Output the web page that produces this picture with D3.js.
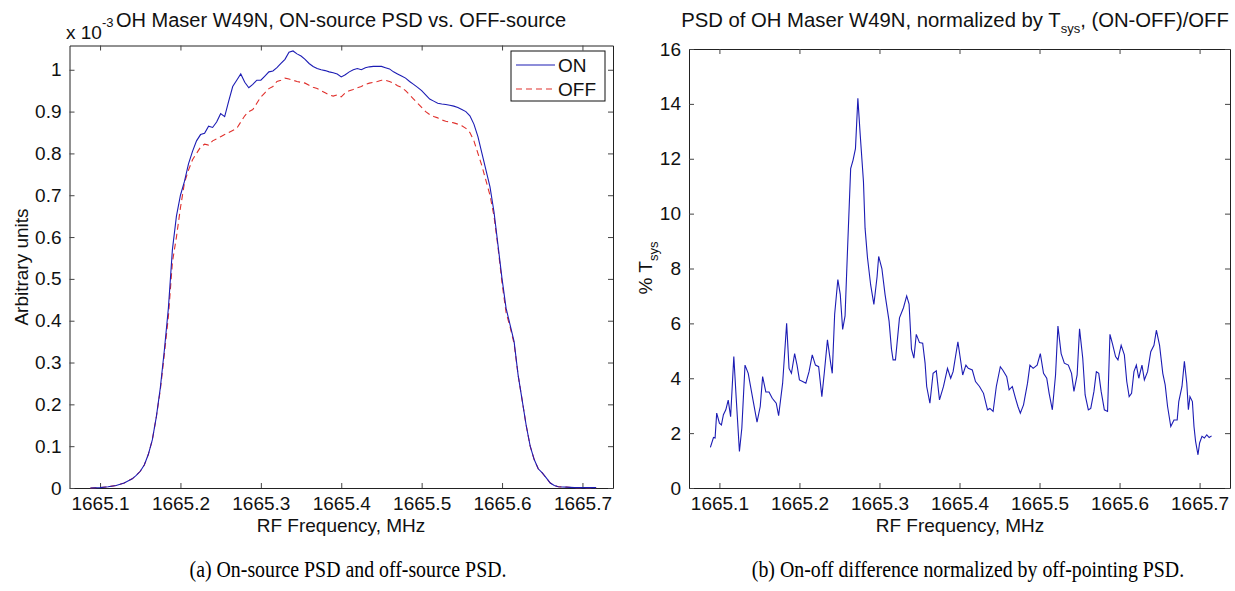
<!DOCTYPE html>
<html lang="en">
<head>
    <meta charset="UTF-8">
    <title>OH Maser W49N PSD</title>
    <style>
        body { margin: 0; background: #fff; }
        svg { display: block; }
        .tick text { font-family: "Liberation Sans", Arial, sans-serif; }
    </style>
</head>
<body>
<script src="https://d3js.org/d3.v7.min.js"></script>
<script>

    // left panel: on/off source PSD (x 1e-3, arbitrary units)
    var psdFreq = [1665.088, 1665.10, 1665.11, 1665.12, 1665.13, 1665.14, 1665.145, 1665.15, 1665.155, 1665.16,
        1665.165, 1665.17, 1665.175, 1665.18, 1665.185, 1665.19, 1665.195, 1665.20, 1665.205, 1665.21,
        1665.215, 1665.22, 1665.225, 1665.23, 1665.235, 1665.24, 1665.245, 1665.25, 1665.255, 1665.26,
        1665.265, 1665.27, 1665.275, 1665.28, 1665.285, 1665.29, 1665.295, 1665.30, 1665.305, 1665.31,
        1665.315, 1665.32, 1665.325, 1665.33, 1665.335, 1665.34, 1665.345, 1665.35, 1665.355, 1665.36,
        1665.365, 1665.37, 1665.375, 1665.38, 1665.385, 1665.39, 1665.395, 1665.40, 1665.405, 1665.41,
        1665.415, 1665.42, 1665.425, 1665.43, 1665.435, 1665.44, 1665.445, 1665.45, 1665.455, 1665.46,
        1665.465, 1665.47, 1665.475, 1665.48, 1665.485, 1665.49, 1665.495, 1665.50, 1665.505, 1665.51,
        1665.515, 1665.52, 1665.525, 1665.53, 1665.535, 1665.54, 1665.545, 1665.55, 1665.555, 1665.56,
        1665.565, 1665.57, 1665.575, 1665.58, 1665.585, 1665.59, 1665.595, 1665.60, 1665.605, 1665.61,
        1665.615, 1665.62, 1665.625, 1665.63, 1665.635, 1665.64, 1665.645, 1665.65, 1665.655, 1665.66,
        1665.665, 1665.67, 1665.68, 1665.69, 1665.70, 1665.717];

    var psdOn = [0.000, 0.001, 0.003, 0.006, 0.012, 0.022, 0.030, 0.040, 0.055, 0.080,
        0.115, 0.170, 0.240, 0.330, 0.430, 0.570, 0.650, 0.700, 0.733, 0.775,
        0.805, 0.830, 0.845, 0.848, 0.865, 0.862, 0.875, 0.895, 0.888, 0.925,
        0.960, 0.975, 0.990, 0.970, 0.957, 0.965, 0.975, 0.975, 0.985, 0.995,
        0.997, 1.005, 1.015, 1.025, 1.042, 1.045, 1.038, 1.033, 1.025, 1.015,
        1.008, 1.003, 1.000, 0.998, 0.995, 0.993, 0.990, 0.983, 0.988, 0.995,
        1.000, 1.003, 1.000, 1.005, 1.007, 1.008, 1.008, 1.008, 1.005, 1.002,
        0.995, 0.990, 0.985, 0.980, 0.972, 0.965, 0.958, 0.950, 0.940, 0.930,
        0.925, 0.920, 0.918, 0.917, 0.915, 0.913, 0.910, 0.905, 0.900, 0.890,
        0.870, 0.840, 0.800, 0.760, 0.720, 0.660, 0.580, 0.500, 0.430, 0.390,
        0.350, 0.270, 0.210, 0.150, 0.100, 0.068, 0.046, 0.036, 0.024, 0.012,
        0.006, 0.003, 0.002, 0.001, 0.001, 0.001];

    var psdOff = [0.000, 0.001, 0.003, 0.006, 0.012, 0.022, 0.030, 0.040, 0.055, 0.080,
        0.115, 0.170, 0.235, 0.320, 0.410, 0.540, 0.600, 0.670, 0.730, 0.760,
        0.785, 0.800, 0.815, 0.822, 0.820, 0.830, 0.835, 0.840, 0.845, 0.850,
        0.855, 0.860, 0.875, 0.890, 0.900, 0.905, 0.920, 0.935, 0.945, 0.955,
        0.960, 0.972, 0.975, 0.980, 0.978, 0.975, 0.972, 0.970, 0.968, 0.963,
        0.958, 0.955, 0.950, 0.945, 0.940, 0.937, 0.940, 0.935, 0.945, 0.950,
        0.953, 0.957, 0.960, 0.965, 0.968, 0.970, 0.972, 0.975, 0.975, 0.972,
        0.968, 0.962, 0.958, 0.950, 0.940, 0.930, 0.920, 0.910, 0.900, 0.893,
        0.888, 0.885, 0.880, 0.877, 0.875, 0.873, 0.870, 0.866, 0.860, 0.850,
        0.830, 0.800, 0.770, 0.735, 0.700, 0.650, 0.575, 0.490, 0.420, 0.385,
        0.345, 0.270, 0.210, 0.150, 0.100, 0.068, 0.046, 0.036, 0.024, 0.012,
        0.006, 0.003, 0.002, 0.001, 0.001, 0.001];

    // right panel: (ON-OFF)/OFF in % Tsys
    var diffFreq = [1665.0887, 1665.0926, 1665.0946, 1665.0966, 1665.100, 1665.1025, 1665.105, 1665.108, 1665.111, 1665.114,
        1665.118, 1665.121, 1665.125, 1665.128, 1665.132, 1665.136, 1665.142, 1665.147, 1665.151, 1665.154,
        1665.158, 1665.162, 1665.166, 1665.171, 1665.174, 1665.179, 1665.184, 1665.187, 1665.190, 1665.194,
        1665.197, 1665.200, 1665.204, 1665.208, 1665.212, 1665.216, 1665.220, 1665.224, 1665.228, 1665.231,
        1665.235, 1665.239, 1665.241, 1665.244, 1665.248, 1665.251, 1665.254, 1665.257, 1665.260, 1665.264,
        1665.267, 1665.270, 1665.273, 1665.276, 1665.280, 1665.282, 1665.285, 1665.289, 1665.293, 1665.297,
        1665.299, 1665.303, 1665.307, 1665.312, 1665.315, 1665.317, 1665.320, 1665.325, 1665.330, 1665.334,
        1665.337, 1665.340, 1665.343, 1665.346, 1665.350, 1665.354, 1665.357, 1665.359, 1665.363, 1665.367,
        1665.371, 1665.375, 1665.380, 1665.385, 1665.389, 1665.392, 1665.398, 1665.401, 1665.404, 1665.408,
        1665.411, 1665.416, 1665.420, 1665.425, 1665.430, 1665.435, 1665.438, 1665.442, 1665.446, 1665.451,
        1665.454, 1665.459, 1665.462, 1665.466, 1665.470, 1665.473, 1665.476, 1665.480, 1665.485, 1665.488,
        1665.492, 1665.497, 1665.501, 1665.505, 1665.509, 1665.512, 1665.516, 1665.520, 1665.523, 1665.527,
        1665.531, 1665.536, 1665.540, 1665.543, 1665.547, 1665.550, 1665.554, 1665.557, 1665.561, 1665.564,
        1665.568, 1665.571, 1665.574, 1665.577, 1665.581, 1665.585, 1665.588, 1665.591, 1665.595, 1665.598,
        1665.602, 1665.606, 1665.609, 1665.612, 1665.615, 1665.618, 1665.621, 1665.624, 1665.628, 1665.631,
        1665.635, 1665.639, 1665.643, 1665.646, 1665.650, 1665.654, 1665.657, 1665.660, 1665.664, 1665.668,
        1665.672, 1665.674, 1665.678, 1665.681, 1665.684, 1665.686, 1665.688, 1665.691, 1665.693, 1665.695,
        1665.698, 1665.700, 1665.703, 1665.706, 1665.709, 1665.712, 1665.715];

    var diffPct = [1.48, 1.84, 1.82, 2.73, 2.36, 2.30, 2.67, 2.85, 3.20, 2.60,
        4.79, 3.27, 1.33, 2.18, 4.48, 4.18, 3.20, 2.40, 2.97, 4.06,
        3.50, 3.50, 3.27, 3.09, 2.64, 3.82, 6.00, 4.36, 4.18, 4.90,
        4.48, 3.94, 3.88, 3.82, 4.24, 4.85, 4.48, 4.42, 3.33, 4.18,
        5.40, 4.55, 4.18, 6.33, 7.60, 7.06, 5.78, 6.27, 8.62, 11.64,
        11.95, 12.37, 14.20, 12.85, 11.16, 9.47, 8.40, 7.40, 6.69, 7.70,
        8.44, 8.00, 7.05, 6.08, 5.06, 4.67, 4.67, 6.20, 6.57, 7.00,
        6.70, 5.06, 4.73, 5.60, 5.30, 5.28, 4.55, 3.70, 3.09, 4.18,
        4.27, 3.21, 3.70, 4.36, 4.00, 4.24, 5.33, 4.73, 4.12, 4.48,
        4.36, 4.30, 3.88, 3.70, 3.45, 2.85, 2.90, 2.79, 3.70, 4.42,
        4.30, 4.06, 3.58, 3.70, 3.27, 2.97, 2.73, 3.03, 3.82, 4.48,
        4.36, 4.48, 4.90, 4.18, 4.00, 3.45, 2.85, 4.12, 5.90, 4.90,
        4.55, 4.48, 4.18, 3.52, 4.12, 5.80, 4.73, 3.39, 2.85, 2.90,
        3.52, 4.24, 4.18, 3.52, 2.85, 2.79, 5.60, 5.27, 4.79, 4.67,
        5.20, 4.85, 3.88, 3.33, 3.45, 4.24, 4.48, 4.00, 4.48, 3.94,
        4.24, 4.97, 5.20, 5.75, 5.20, 4.18, 3.76, 2.97, 2.24, 2.48,
        2.48, 3.15, 3.70, 4.62, 3.82, 2.85, 3.33, 3.15, 2.24, 1.70,
        1.21, 1.64, 1.88, 1.82, 1.94, 1.84, 1.90];

    var freqTicks = [1665.1, 1665.2, 1665.3, 1665.4, 1665.5, 1665.6, 1665.7];
    var psdTicks = [0, 0.1, 0.2, 0.3, 0.4, 0.5, 0.6, 0.7, 0.8, 0.9, 1];
    var pctTicks = [0, 2, 4, 6, 8, 10, 12, 14, 16];
    var legendLabels = ['ON', 'OFF'];
    var captions = ['(a)  On-source PSD and off-source PSD.', '(b)  On-off difference normalized by off-pointing PSD.'];

    var W = 1235, H = 591;
    var font = '"Liberation Sans", Arial, Helvetica, sans-serif';
    var serif = '"Liberation Serif", "Times New Roman", serif';
    var blue = '#1c1cb4', red = '#e0302c';

    var svg = d3.select('body').append('svg')
        .attr('width', W)
        .attr('height', H);

    function panel(box, xDom, yDom, xt, yt, yFmt) {
        var x = d3.scaleLinear().domain(xDom).range([box.l, box.r]);
        var y = d3.scaleLinear().domain(yDom).range([box.b, box.t]);
        var g = svg.append('g');

        // MATLAB-style box: inward ticks on every side
        var axes = [
            [d3.axisBottom(x).tickValues(xt).tickSizeInner(-5).tickSizeOuter(0).tickPadding(9)
                .tickFormat(d3.format('.1f')), 'translate(0,' + box.b + ')'],
            [d3.axisTop(x).tickValues(xt).tickSizeInner(-5).tickSizeOuter(0).tickFormat(''),
                'translate(0,' + box.t + ')'],
            [d3.axisLeft(y).tickValues(yt).tickSizeInner(-5).tickSizeOuter(0).tickPadding(8)
                .tickFormat(yFmt), 'translate(' + box.l + ',0)'],
            [d3.axisRight(y).tickValues(yt).tickSizeInner(-5).tickSizeOuter(0).tickFormat(''),
                'translate(' + box.r + ',0)']
        ];
        axes.forEach(function (a) {
            var ag = g.append('g').attr('transform', a[1]).call(a[0]);
            ag.select('.domain').attr('stroke', '#222');
            ag.selectAll('.tick line').attr('stroke', '#444');
            ag.selectAll('.tick text')
                .attr('font-size', 19)
                .attr('fill', '#111');
        });
        return {x: x, y: y, g: g};
    }

    // ---- left panel ----
    var A = panel({l: 69.5, r: 613, t: 45.5, b: 488}, [1665.062, 1665.738], [0, 1.058],
        freqTicks, psdTicks, function (d) { return d === 0 ? '0' : d3.format('.1~f')(d); });

    var lineA = d3.line()
        .x(function (d, i) { return A.x(psdFreq[i]); })
        .y(function (d) { return A.y(d); });

    A.g.append('path')
        .datum(psdOff)
        .attr('fill', 'none')
        .attr('stroke', red)
        .attr('stroke-width', 1.1)
        .attr('stroke-dasharray', '6,4')
        .attr('d', lineA);

    A.g.append('path')
        .datum(psdOn)
        .attr('fill', 'none')
        .attr('stroke', blue)
        .attr('stroke-width', 1.1)
        .attr('d', lineA);

    // legend
    var lg = A.g.append('g').attr('transform', 'translate(511,51)');
    lg.append('rect')
        .attr('width', 94).attr('height', 50)
        .attr('fill', '#fff').attr('stroke', '#111');
    lg.selectAll('.lgline')
        .data(legendLabels)
        .enter()
        .append('line')
        .attr('x1', 5).attr('x2', 44)
        .attr('y1', function (d, i) { return 14 + i * 24; })
        .attr('y2', function (d, i) { return 14 + i * 24; })
        .attr('stroke', function (d, i) { return i ? red : blue; })
        .attr('stroke-width', 1.1)
        .attr('stroke-dasharray', function (d, i) { return i ? '6,4' : null; });
    lg.selectAll('.lgtext')
        .data(legendLabels)
        .enter()
        .append('text')
        .attr('x', 47)
        .attr('y', function (d, i) { return 21 + i * 24; })
        .attr('font-family', font)
        .attr('font-size', 19)
        .attr('fill', '#111')
        .text(function (d) { return d; });

    // axis exponent, tucked just left of the title
    var ex = svg.append('text')
        .attr('x', 66).attr('y', 39)
        .attr('font-family', font).attr('font-size', 19).attr('fill', '#111');
    ex.append('tspan').text('x 10');
    ex.append('tspan').attr('dy', -12).attr('font-size', 13).text('-3');

    svg.append('text')
        .attr('x', 341).attr('y', 27)
        .attr('text-anchor', 'middle')
        .attr('font-family', font).attr('font-size', 20).attr('fill', '#111')
        .text('OH Maser W49N, ON-source PSD vs. OFF-source');

    svg.append('text')
        .attr('x', 341).attr('y', 532)
        .attr('text-anchor', 'middle')
        .attr('font-family', font).attr('font-size', 19).attr('fill', '#111')
        .text('RF Frequency, MHz');

    svg.append('text')
        .attr('transform', 'translate(28,267) rotate(-90)')
        .attr('text-anchor', 'middle')
        .attr('font-family', font).attr('font-size', 19).attr('fill', '#111')
        .text('Arbitrary units');

    // ---- right panel ----
    var B = panel({l: 689, r: 1230, t: 49, b: 488}, [1665.062, 1665.738], [0, 16],
        freqTicks, pctTicks, d3.format('d'));

    B.g.append('path')
        .datum(diffPct)
        .attr('fill', 'none')
        .attr('stroke', blue)
        .attr('stroke-width', 1.1)
        .attr('d', d3.line()
            .x(function (d, i) { return B.x(diffFreq[i]); })
            .y(function (d) { return B.y(d); }));

    var tb = svg.append('text')
        .attr('x', 955).attr('y', 27)
        .attr('text-anchor', 'middle')
        .attr('font-family', font).attr('font-size', 20.3).attr('fill', '#111');
    tb.append('tspan').text('PSD of OH Maser W49N, normalized by T');
    tb.append('tspan').attr('dy', 6).attr('font-size', 13).text('sys');
    tb.append('tspan').attr('dy', -6).text(', (ON-OFF)/OFF');

    svg.append('text')
        .attr('x', 960).attr('y', 532)
        .attr('text-anchor', 'middle')
        .attr('font-family', font).attr('font-size', 19).attr('fill', '#111')
        .text('RF Frequency, MHz');

    var yl = svg.append('text')
        .attr('transform', 'translate(652,268) rotate(-90)')
        .attr('text-anchor', 'middle')
        .attr('font-family', font).attr('font-size', 19).attr('fill', '#111');
    yl.append('tspan').text('% T');
    yl.append('tspan').attr('dy', 6).attr('font-size', 13).text('sys');

    // captions (LaTeX subcaptions, narrow serif): same horizontal squeeze for both
    var capX = [348, 968];
    var caps = svg.selectAll('.caption')
        .data(captions)
        .enter()
        .append('text')
        .attr('class', 'caption')
        .attr('text-anchor', 'middle')
        .attr('font-family', serif).attr('font-size', 23).attr('fill', '#000')
        .text(function (d) { return d; });
    var squeeze = 317 / caps.node().getComputedTextLength();
    caps.attr('transform', function (d, i) {
        return 'translate(' + capX[i] + ',577) scale(' + squeeze + ',1)';
    });
</script>
</body>
</html>
